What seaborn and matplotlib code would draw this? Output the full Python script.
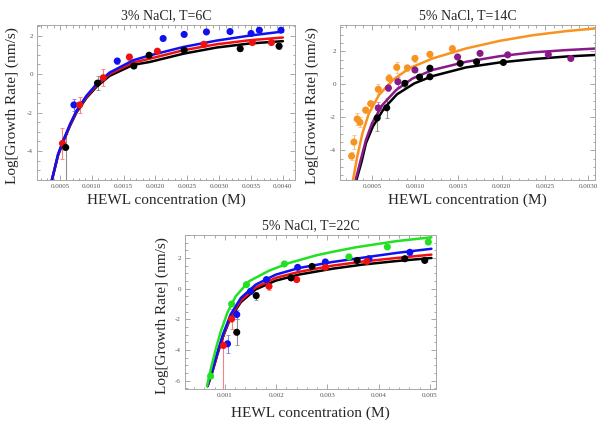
import matplotlib
matplotlib.use('Agg')
import matplotlib.pyplot as plt
import matplotlib.ticker as mticker
import seaborn as sns

# ── Panel 1: 3% NaCl, T=6C ──────────────────────────────────────────
p1_titles = '3% NaCl, T=6C'
p1_curve_x = [0.00037, 0.00042, 0.00047, 0.00055, 0.00066, 0.00076, 0.00092,
              0.00108, 0.00128, 0.00165, 0.00191, 0.00244, 0.00296, 0.00348, 0.0040]
p1_curve_blue = [-5.55, -4.86, -4.16, -3.46, -2.59, -1.90, -1.11,
                 -0.50, 0.08, 0.72, 0.97, 1.41, 1.74, 2.00, 2.21]
p1_curve_red = [-5.55, -4.88, -4.20, -3.50, -2.63, -1.95, -1.17,
                -0.57, 0.00, 0.60, 0.80, 1.24, 1.55, 1.76, 1.90]
p1_curve_black = [-5.55, -4.90, -4.23, -3.53, -2.67, -1.99, -1.22,
                  -0.64, -0.09, 0.48, 0.63, 1.06, 1.38, 1.59, 1.71]

p1_blue_x = [0.00072, 0.00140, 0.00212, 0.00245, 0.00280, 0.00317, 0.00350, 0.00363, 0.00397]
p1_blue_y = [-1.60, 0.68, 1.85, 2.06, 2.19, 2.21, 2.11, 2.28, 2.28]
p1_blue_err = [0.32, 0.15, 0.10, 0.08, 0.08, 0.08, 0.08, 0.08, 0.10]
p1_red_x = [0.00054, 0.00081, 0.00118, 0.00159, 0.00203, 0.00276, 0.00352, 0.00382]
p1_red_y = [-3.60, -1.60, -0.19, 0.89, 1.19, 1.55, 1.64, 1.64]
p1_red_err = [0.80, 0.40, 0.45, 0.15, 0.10, 0.12, 0.10, 0.10]
p1_black_x = [0.00059, 0.00109, 0.00166, 0.00190, 0.00245, 0.00333, 0.00394]
p1_black_y = [-3.81, -0.47, 0.42, 0.98, 1.24, 1.32, 1.45]
p1_black_err = [0.70, 0.35, 0.12, 0.10, 0.10, 0.10, 0.15]
p1_black_err_lo = [2.50, 0.35, 0.12, 0.10, 0.10, 0.10, 0.15]

# ── Panel 2: 5% NaCl, T=14C ─────────────────────────────────────────
p2_title = '5% NaCl, T=14C'
p2_curve_orange_x = [0.00028, 0.00033, 0.00039, 0.000465, 0.00058, 0.00074, 0.00093,
                     0.0012, 0.00159, 0.00198, 0.00236, 0.00275, 0.00308]
p2_curve_orange = [-5.8, -4.37, -2.96, -1.75, -0.65, 0.26, 0.97,
                   1.57, 2.18, 2.64, 2.98, 3.23, 3.39]
p2_curve_purple_x = [0.00031, 0.00037, 0.00043, 0.0005, 0.00062, 0.00078, 0.00097,
                     0.0012, 0.00159, 0.00198, 0.00236, 0.00275, 0.00308]
p2_curve_purple = [-5.8, -4.58, -3.37, -2.36, -1.25, -0.34, 0.36,
                   0.87, 1.37, 1.71, 1.94, 2.08, 2.17]
p2_curve_black_x = [0.00032, 0.00038, 0.00043, 0.00051, 0.00064, 0.00079, 0.00099,
                    0.0012, 0.00159, 0.00198, 0.00236, 0.00275, 0.00308]
p2_curve_black = [-5.8, -4.68, -3.57, -2.56, -1.45, -0.60, 0.06,
                  0.50, 1.03, 1.33, 1.53, 1.69, 1.78]

p2_orange_x = [0.000264, 0.000291, 0.000329, 0.00036, 0.000427, 0.000485, 0.000573,
               0.000698, 0.000787, 0.00091, 0.000997, 0.00117, 0.00143]
p2_orange_y = [-4.35, -3.50, -2.10, -2.30, -1.56, -1.17, -0.30,
               0.36, 1.03, 1.00, 1.57, 1.82, 2.16]
p2_orange_err = [0.25, 0.45, 0.35, 0.30, 0.20, 0.15, 0.30,
                 0.25, 0.35, 0.20, 0.20, 0.15, 0.25]
p2_purple_x = [0.000573, 0.00069, 0.0008, 0.000997, 0.00149, 0.00175, 0.00207, 0.00254, 0.0028]
p2_purple_y = [-1.43, -0.22, 0.16, 0.87, 1.66, 1.88, 1.79, 1.81, 1.57]
p2_purple_err = [0.35, 0.20, 0.30, 0.15, 0.10, 0.10, 0.10, 0.10, 0.10]
p2_black_x = [0.00056, 0.00067, 0.00088, 0.00105, 0.00117, 0.00117, 0.00152, 0.00171, 0.00202]
p2_black_y = [-2.04, -1.42, 0.06, 0.44, 0.98, 0.46, 1.27, 1.37, 1.33]
p2_black_err = [0.80, 0.60, 0.20, 0.10, 0.15, 0.10, 0.10, 0.10, 0.10]

# ── Panel 3: 5% NaCl, T=22C ─────────────────────────────────────────
p3_title = '5% NaCl, T=22C'
p3_curve_green_x = [0.00065, 0.00072, 0.00082, 0.00092, 0.00105, 0.00121, 0.00147,
                    0.00186, 0.00225, 0.00278, 0.00304, 0.00356, 0.00435, 0.00503]
p3_curve_green = [-6.36, -5.30, -3.95, -2.78, -1.55, -0.50, 0.48,
                  1.17, 1.67, 2.17, 2.36, 2.70, 3.10, 3.35]
p3_curve_x = [0.00066, 0.00075, 0.00085, 0.00096, 0.00111, 0.00131, 0.0016,
              0.00199, 0.00245, 0.0031, 0.00369, 0.00435, 0.00503]
p3_curve_blue = [-6.36, -5.39, -4.19, -3.00, -1.69, -0.61, 0.26,
                 0.91, 1.35, 1.74, 2.02, 2.33, 2.60]
p3_curve_red = [-6.36, -5.45, -4.27, -3.10, -1.82, -0.78, 0.08,
                0.70, 1.10, 1.50, 1.77, 2.00, 2.22]
p3_curve_black = [-6.36, -5.48, -4.32, -3.15, -1.90, -0.88, -0.05,
                  0.52, 0.92, 1.30, 1.57, 1.80, 2.00]

p3_green_x = [0.00072, 0.00113, 0.00142, 0.00216, 0.00342, 0.00417, 0.00497]
p3_green_y = [-5.71, -1.00, 0.26, 1.61, 2.07, 2.72, 3.04]
p3_green_err = [0.10, 0.10, 0.10, 0.10, 0.10, 0.10, 0.10]
p3_blue_x = [0.00105, 0.00123, 0.0015, 0.00181, 0.00242, 0.00296, 0.00381, 0.00461]
p3_blue_y = [-3.60, -1.69, -0.17, 0.59, 1.39, 1.74, 1.95, 2.37]
p3_blue_err = [0.60, 0.30, 0.15, 0.15, 0.10, 0.10, 0.10, 0.15]
p3_red_x = [0.00097, 0.00113, 0.00186, 0.0024, 0.00296, 0.00377]
p3_red_y = [-3.71, -1.98, 0.15, 0.59, 1.39, 1.78]
p3_red_err = [0.65, 0.65, 0.25, 0.10, 0.10, 0.10]
p3_red_err_lo = [3.20, 0.65, 0.25, 0.10, 0.10, 0.10]
p3_black_x = [0.00123, 0.00161, 0.00229, 0.0027, 0.00358, 0.00451, 0.0049]
p3_black_y = [-2.85, -0.46, 0.70, 1.45, 1.84, 1.95, 1.84]
p3_black_err = [0.85, 0.25, 0.15, 0.10, 0.10, 0.10, 0.10]

X_LABEL = 'HEWL concentration (M)'
Y_LABEL = 'Log[Growth Rate] (nm/s)'

COLORS = {'blue': '#1010f0', 'red': '#f01010', 'black': '#000000',
          'orange': '#f7931e', 'purple': '#8a1a8a', 'green': '#22e022'}
ERR_COLORS = {'blue': '#8080f8', 'red': '#f88080', 'black': '#909090',
              'orange': '#f8c080', 'purple': '#c080c0', 'green': '#90f090'}

sns.set_style('ticks')
plt.rcParams['font.family'] = ['Liberation Serif', 'DejaVu Serif']
plt.rcParams['axes.unicode_minus'] = False


def draw_points(ax, x, y, err_hi, err_lo, name):
    ax.errorbar(x, y, yerr=[err_lo, err_hi], fmt='none',
                ecolor=ERR_COLORS[name], elinewidth=0.8, capsize=1.2,
                capthick=0.6, zorder=2)
    sns.scatterplot(x=x, y=y, color=COLORS[name], s=26, edgecolor='none',
                    ax=ax, zorder=4, legend=False)


def draw_curve(ax, x, y, name):
    sns.lineplot(x=x, y=y, color=COLORS[name], lw=1.8, ax=ax, sort=False,
                 estimator=None, zorder=3, legend=False)


def style_axes(ax, title, xlim, ylim, xmajor, xfmt, ylab_x, xlab_y):
    ax.set_xlim(*xlim)
    ax.set_ylim(*ylim)
    ax.set_title(title, fontsize=10, pad=4)
    ax.set_xlabel(X_LABEL, fontsize=11)
    ax.set_ylabel(Y_LABEL, fontsize=11)
    ax.xaxis.label.set_va('center')
    ax.yaxis.label.set_va('center')
    ax.xaxis.set_label_coords(0.5, xlab_y)
    ax.yaxis.set_label_coords(ylab_x, 0.48)
    ax.xaxis.set_major_locator(mticker.MultipleLocator(xmajor))
    ax.xaxis.set_major_formatter(mticker.FormatStrFormatter(xfmt))
    ax.xaxis.set_minor_locator(mticker.AutoMinorLocator(5))
    ax.yaxis.set_major_locator(mticker.MultipleLocator(2))
    ax.yaxis.set_minor_locator(mticker.AutoMinorLocator(4))
    ax.tick_params(which='both', direction='in', top=True, right=True,
                   colors='#9a9a9a', labelcolor='#555555', width=0.6)
    ax.tick_params(which='major', length=3.5, labelsize=5, pad=3)
    ax.tick_params(which='minor', length=1.8)
    for sp in ax.spines.values():
        sp.set_color('#a8a8a8')
        sp.set_linewidth(0.7)


fig = plt.figure(figsize=(6, 4.21), dpi=100)

# Panel 1
ax1 = fig.add_axes([37 / 600, 241 / 421, 258 / 600, 155 / 421])
draw_points(ax1, p1_blue_x, p1_blue_y, p1_blue_err, p1_blue_err, 'blue')
draw_points(ax1, p1_red_x, p1_red_y, p1_red_err, p1_red_err, 'red')
draw_points(ax1, p1_black_x, p1_black_y, p1_black_err, p1_black_err_lo, 'black')
draw_curve(ax1, p1_curve_x, p1_curve_black, 'black')
draw_curve(ax1, p1_curve_x, p1_curve_red, 'red')
draw_curve(ax1, p1_curve_x, p1_curve_blue, 'blue')
style_axes(ax1, p1_titles, (0.00014, 0.00419), (-5.5, 2.55),
           0.0005, '%.4f', -0.097, -0.129)

# Panel 2
ax2 = fig.add_axes([340 / 600, 241 / 421, 255 / 600, 155 / 421])
draw_points(ax2, p2_orange_x, p2_orange_y, p2_orange_err, p2_orange_err, 'orange')
draw_points(ax2, p2_purple_x, p2_purple_y, p2_purple_err, p2_purple_err, 'purple')
draw_points(ax2, p2_black_x, p2_black_y, p2_black_err, p2_black_err, 'black')
draw_curve(ax2, p2_curve_black_x, p2_curve_black, 'black')
draw_curve(ax2, p2_curve_purple_x, p2_curve_purple, 'purple')
draw_curve(ax2, p2_curve_orange_x, p2_curve_orange, 'orange')
style_axes(ax2, p2_title, (0.00013, 0.00308), (-5.8, 3.6),
           0.0005, '%.4f', -0.11, -0.129)

# Panel 3
ax3 = fig.add_axes([185 / 600, 32 / 421, 251 / 600, 154 / 421])
draw_points(ax3, p3_green_x, p3_green_y, p3_green_err, p3_green_err, 'green')
draw_points(ax3, p3_blue_x, p3_blue_y, p3_blue_err, p3_blue_err, 'blue')
draw_points(ax3, p3_red_x, p3_red_y, p3_red_err, p3_red_err_lo, 'red')
draw_points(ax3, p3_black_x, p3_black_y, p3_black_err, p3_black_err, 'black')
draw_curve(ax3, p3_curve_x, p3_curve_black, 'black')
draw_curve(ax3, p3_curve_x, p3_curve_red, 'red')
draw_curve(ax3, p3_curve_x, p3_curve_blue, 'blue')
draw_curve(ax3, p3_curve_green_x, p3_curve_green, 'green')
style_axes(ax3, p3_title, (0.00022, 0.00512), (-6.55, 3.5),
           0.001, '%.3f', -0.092, -0.156)

fig.savefig('out.png', dpi=100)
